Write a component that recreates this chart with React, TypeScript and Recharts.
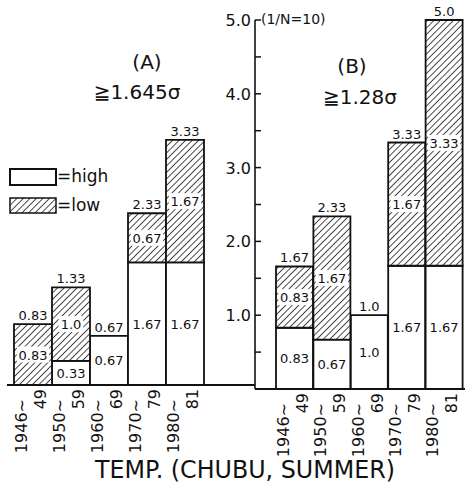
import React from 'react'
import { BarChart, Bar, XAxis, YAxis, LabelList } from 'recharts'

const periods = ['1946~49', '1950~59', '1960~69', '1970~79', '1980~81']

// (A) >= 1.645 sigma
const highA = [0, 0.33, 0.67, 1.67, 1.67]
const lowA = [0.83, 1.0, 0, 0.67, 1.67]
const totalA = [0.83, 1.33, 0.67, 2.33, 3.33]

// (B) >= 1.28 sigma
const highB = [0.83, 0.67, 1.0, 1.67, 1.67]
const lowB = [0.83, 1.67, 0, 1.67, 3.33]
const totalB = [1.67, 2.33, 1.0, 3.33, 5.0]

const yTicks = [0.5, 1, 1.5, 2, 2.5, 3, 3.5, 4, 4.5, 5]

const FONT = '"DejaVu Sans", sans-serif'
const INK = '#111'

// the total sits on the "low" segment, or on "high" where there is no low part
const build = (high: number[], low: number[], total: number[]) =>
  periods.map((p, i) => ({
    period: p,
    high: high[i],
    low: low[i],
    total: total[i],
    capHigh: low[i] === 0 ? total[i] : null,
  }))

const dataA = build(highA, lowA, totalA)
const dataB = build(highB, lowB, totalB)

const fmt = (v: number) => (Number.isInteger(v) ? v.toFixed(1) : String(v))

const Hatch = ({ id }: { id: string }) => (
  <pattern id={id} width="4.6" height="4.6" patternUnits="userSpaceOnUse" patternTransform="rotate(45)">
    <rect width="4.6" height="4.6" fill="#fff" />
    <line x1="0" y1="0" x2="0" y2="4.6" stroke={INK} strokeWidth="1.5" />
  </pattern>
)

const box = (props: any) => props.viewBox ?? props

const SegLabel = (props: any) => {
  const { x, y, width, height } = box(props)
  const value = props.value
  if (!value) return null
  const t = fmt(value)
  const cx = x + width / 2
  const cy = y + height / 2
  const w = t.length * 7.6 + 2
  return (
    <g>
      <rect x={cx - w / 2} y={cy - 8} width={w} height={16} fill="#fff" />
      <text x={cx} y={cy + 5} textAnchor="middle" fontSize={13} fontFamily={FONT} fill={INK}>{t}</text>
    </g>
  )
}

const TopLabel = (props: any) => {
  if (props.value == null) return null
  const { x, y, width } = box(props)
  return (
    <text x={x + width / 2} y={y - 4} textAnchor="middle" fontSize={13} fontFamily={FONT} fill={INK}>
      {fmt(props.value)}
    </text>
  )
}

const PeriodTick = ({ x, y, payload }: any) => {
  const [a, b] = String(payload.value).split('~')
  return (
    <g fontFamily={FONT} fontSize={16} fill={INK}>
      <text transform={`translate(${x - 6},${y + 14}) rotate(-90)`} textAnchor="end">{a}~</text>
      <text transform={`translate(${x + 13},${y + 4}) rotate(-90)`} textAnchor="end">{b}</text>
    </g>
  )
}

const ValueTick = ({ x, y, payload }: any) => {
  const v = payload.value
  return (
    <g>
      <line x1={x} x2={x + 6} y1={y} y2={y} stroke={INK} strokeWidth={1.5} />
      {Number.isInteger(v) ? (
        <text x={x - 4} y={y + 6} textAnchor="end" fontSize={16} fontFamily={FONT} fill={INK}>{v.toFixed(1)}</text>
      ) : null}
    </g>
  )
}

export default function App() {
  return (
    <div style={{ position: 'relative', width: 468, height: 490, background: '#fff', overflow: 'hidden' }}>
      <style>{'body{margin:0}'}</style>

      <div style={{ position: 'absolute', left: 0, top: 0 }}>
        <BarChart width={260} height={490} data={dataA} barCategoryGap={0} margin={{ top: 18, right: 5, left: 7, bottom: 25 }}>
          <defs>
            <Hatch id="hatchA" />
          </defs>
          <XAxis dataKey="period" height={80} padding={{ left: 7, right: 51 }} axisLine={{ stroke: INK, strokeWidth: 1.8 }}
            tickLine={false} tickSize={0} tickMargin={0} interval={0} tick={<PeriodTick />} />
          <YAxis hide domain={[0, 5]} />
          <Bar dataKey="high" stackId="s" fill="#fff" stroke={INK} strokeWidth={1.8} isAnimationActive={false}>
            <LabelList dataKey="high" content={<SegLabel />} />
            <LabelList dataKey="capHigh" content={<TopLabel />} />
          </Bar>
          <Bar dataKey="low" stackId="s" fill="url(#hatchA)" stroke={INK} strokeWidth={1.8} isAnimationActive={false}>
            <LabelList dataKey="low" content={<SegLabel />} />
            <LabelList dataKey="total" content={<TopLabel />} />
          </Bar>
        </BarChart>
      </div>

      <div style={{ position: 'absolute', left: 200, top: 0 }}>
        <BarChart width={268} height={490} data={dataB} barCategoryGap={0} margin={{ top: 20, right: 3, left: 0, bottom: 21 }}>
          <defs>
            <Hatch id="hatchB" />
          </defs>
          <XAxis dataKey="period" height={80} padding={{ left: 21, right: 2 }} axisLine={{ stroke: INK, strokeWidth: 1.8 }}
            tickLine={false} tickSize={0} tickMargin={0} interval={0} tick={<PeriodTick />} />
          <YAxis width={55} domain={[0, 5]} ticks={yTicks} interval={0} axisLine={{ stroke: INK, strokeWidth: 1.6 }}
            tickLine={false} tickSize={0} tickMargin={0} tick={<ValueTick />} />
          <Bar dataKey="high" stackId="s" fill="#fff" stroke={INK} strokeWidth={1.8} isAnimationActive={false}>
            <LabelList dataKey="high" content={<SegLabel />} />
            <LabelList dataKey="capHigh" content={<TopLabel />} />
          </Bar>
          <Bar dataKey="low" stackId="s" fill="url(#hatchB)" stroke={INK} strokeWidth={1.8} isAnimationActive={false}>
            <LabelList dataKey="low" content={<SegLabel />} />
            <LabelList dataKey="total" content={<TopLabel />} />
          </Bar>
        </BarChart>
      </div>

      <svg width={468} height={490} style={{ position: 'absolute', left: 0, top: 0, pointerEvents: 'none' }}
        fontFamily={FONT} fill={INK}>
        <defs>
          <Hatch id="hatchLegend" />
        </defs>
        <text x={147} y={69} fontSize={20} textAnchor="middle">(A)</text>
        <text x={137} y={99} fontSize={20} textAnchor="middle">≧1.645σ</text>
        <text x={352} y={73} fontSize={20} textAnchor="middle">(B)</text>
        <text x={360} y={104} fontSize={20} textAnchor="middle">≧1.28σ</text>
        <text x={261} y={24} fontSize={14}>(1/N=10)</text>

        <rect x={10} y={169} width={46} height={16} fill="#fff" stroke={INK} strokeWidth={2} />
        <text x={57} y={182} fontSize={17}>=high</text>
        <rect x={10} y={198} width={46} height={15} fill="url(#hatchLegend)" stroke={INK} strokeWidth={1.5} />
        <text x={57} y={211} fontSize={17}>=low</text>

        <text x={95} y={478} fontSize={24} textLength={300} lengthAdjust="spacingAndGlyphs">TEMP. (CHUBU, SUMMER)</text>
      </svg>
    </div>
  )
}
